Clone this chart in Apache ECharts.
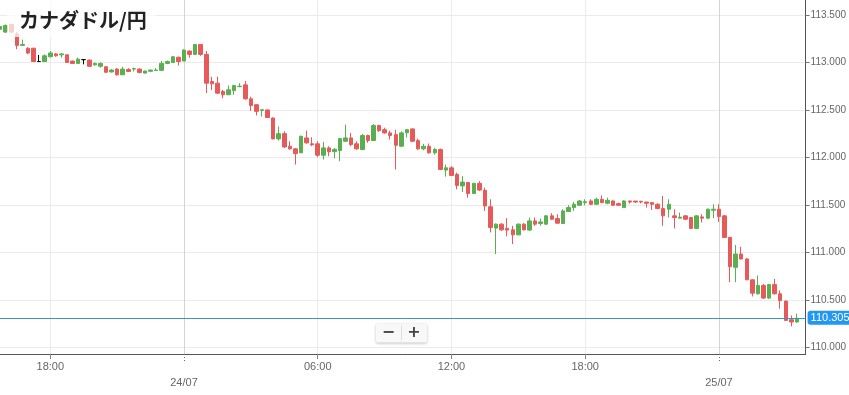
<!DOCTYPE html>
<html>
<head>
<meta charset="utf-8">
<script src="https://cdn.jsdelivr.net/npm/echarts@6/dist/echarts.min.js"></script>
<style>
html,body{margin:0;padding:0;background:#fff;}
#chart{width:849px;height:395px;}
</style>
</head>
<body>
<div id="chart"></div>
<script>
// 15-minute candles, CAD/JPY, 23/07 15:45 -> 25/07 03:30 (hours since 23/07 00:00)
var startHour = 15.75;
var stepHour = 0.25;

var opens = [
113.35,113.32,113.40,113.30,113.18,113.15,113.15,113.01,113.01,113.06,
113.09,113.08,113.08,113.015,112.99,113.03,113.025,112.975,112.96,112.955,
112.90,112.93,112.87,112.925,112.93,112.93,112.888,112.907,112.915,112.917,
112.99,113.00,113.055,113.015,113.12,113.085,113.19,113.085,112.80,112.782,
112.694,112.66,112.705,112.745,112.764,112.617,112.555,112.495,112.50,112.415,
112.195,112.25,112.117,112.09,112.048,112.205,112.143,112.143,112.023,112.10,
112.06,112.072,112.17,112.205,112.143,112.083,112.23,112.178,112.335,112.292,
112.258,112.24,112.118,112.26,112.30,112.177,112.09,112.117,112.048,112.083,
111.866,111.89,111.82,111.70,111.735,111.62,111.727,111.653,111.48,111.255,
111.297,111.252,111.237,111.184,111.297,111.234,111.331,111.304,111.297,111.384,
111.356,111.304,111.43,111.471,111.496,111.524,111.541,111.506,111.559,111.517,
111.541,111.513,111.471,111.541,111.54,111.538,111.53,111.524,111.506,111.461,
111.454,111.384,111.36,111.384,111.367,111.252,111.373,111.36,111.443,111.454,
111.384,111.157,110.842,110.982,110.93,110.71,110.563,110.65,110.518,110.66,
110.563,110.486,110.29,110.266
];
var closes = [
113.38,113.39,113.32,113.18,113.19,113.10,113.01,113.01,113.07,113.10,
113.07,113.09,113.00,112.99,113.035,113.03,112.96,112.99,112.99,112.897,
112.92,112.87,112.93,112.905,112.935,112.895,112.91,112.92,112.92,112.99,
113.01,113.06,113.01,113.13,113.085,113.19,113.085,112.782,112.775,112.677,
112.66,112.712,112.757,112.75,112.617,112.547,112.485,112.502,112.42,112.195,
112.25,112.11,112.09,112.04,112.222,112.153,112.132,112.023,112.10,112.06,
112.083,112.198,112.205,112.135,112.09,112.23,112.178,112.335,112.282,112.258,
112.23,112.128,112.258,112.292,112.17,112.09,112.117,112.048,112.083,111.873,
111.89,111.81,111.705,111.74,111.62,111.727,111.656,111.488,111.262,111.297,
111.237,111.234,111.184,111.297,111.237,111.331,111.297,111.32,111.384,111.349,
111.307,111.436,111.471,111.506,111.541,111.534,111.506,111.559,111.524,111.548,
111.496,111.496,111.541,111.53,111.53,111.53,111.517,111.506,111.461,111.384,
111.506,111.367,111.37,111.349,111.252,111.384,111.36,111.454,111.454,111.377,
111.157,110.849,110.982,110.93,110.71,110.57,110.65,110.518,110.66,110.563,
110.493,110.283,110.266,110.305
];
var lows = [
113.33,113.31,113.31,113.14,113.18,113.086,113.005,113.01,113.005,113.055,
113.06,113.05,113.00,112.985,112.99,112.98,112.955,112.965,112.945,112.893,
112.895,112.86,112.87,112.90,112.905,112.885,112.885,112.905,112.915,112.914,
112.985,112.998,112.967,113.015,113.05,113.085,113.07,112.677,112.71,112.667,
112.625,112.66,112.66,112.74,112.607,112.49,112.442,112.43,112.415,112.19,
112.177,112.10,112.08,111.925,112.048,112.143,112.118,112.002,111.978,112.012,
111.99,111.96,112.163,112.118,112.08,112.075,112.153,112.178,112.268,112.25,
112.188,111.873,112.111,112.21,112.163,112.08,112.075,112.04,112.03,111.866,
111.797,111.81,111.663,111.635,111.576,111.618,111.646,111.436,111.21,110.982,
111.226,111.168,111.087,111.181,111.23,111.226,111.279,111.28,111.286,111.342,
111.304,111.297,111.426,111.436,111.489,111.496,111.499,111.499,111.517,111.506,
111.489,111.489,111.471,111.513,111.52,111.515,111.471,111.447,111.454,111.279,
111.367,111.252,111.36,111.342,111.244,111.244,111.314,111.349,111.36,111.32,
111.157,110.685,110.685,110.923,110.71,110.535,110.556,110.51,110.51,110.556,
110.406,110.277,110.22,110.259
];
var highs = [
113.39,113.40,113.41,113.32,113.24,113.16,113.155,113.08,113.085,113.12,
113.10,113.10,113.085,113.02,113.05,113.03,113.03,113.00,113.00,112.96,
112.93,112.94,112.955,112.94,112.945,112.94,112.912,112.925,112.94,113.015,
113.02,113.068,113.06,113.14,113.128,113.194,113.194,113.12,112.85,112.85,
112.712,112.757,112.764,112.782,112.806,112.64,112.56,112.502,112.505,112.42,
112.327,112.275,112.17,112.10,112.23,112.282,112.212,112.17,112.163,112.117,
112.10,112.205,112.345,112.258,112.17,112.247,112.24,112.352,112.345,112.313,
112.282,112.292,112.275,112.30,112.306,112.198,112.143,112.146,112.10,112.093,
111.925,111.908,111.84,111.803,111.74,111.733,111.75,111.68,111.559,111.304,
111.307,111.36,111.279,111.304,111.307,111.367,111.367,111.356,111.39,111.412,
111.401,111.454,111.496,111.53,111.551,111.559,111.559,111.576,111.60,111.576,
111.548,111.524,111.548,111.541,111.54,111.54,111.53,111.524,111.517,111.593,
111.559,111.454,111.419,111.391,111.373,111.39,111.401,111.461,111.506,111.506,
111.394,111.164,111.077,111.058,110.94,110.717,110.755,110.668,110.668,110.72,
110.598,110.492,110.335,110.353
];

var times = opens.map(function (_, i) { return startHour + i * stepHour; });

var xTimeTicks = [18, 30, 36, 42];
var xTimeLabels = ['18:00', '06:00', '12:00', '18:00'];
var xDateTicks = [24, 48];
var xDateLabels = ['24/07', '25/07'];
var yTicks = [110.0, 110.5, 111.0, 111.5, 112.0, 112.5, 113.0, 113.5];

var title = 'カナダドル/円';
var lastPrice = closes[closes.length - 1];

var xMin = 15.744, xMax = 51.888;
var yMin = 109.929, yMax = 113.658;

var upColor = '#58b050', downColor = '#e65a5a';
var labelFont = '"Liberation Sans", Arial, sans-serif';

var candleData = times.map(function (t, i) {
  return [t, opens[i], closes[i], lows[i], highs[i]];
});

function lookup(ticks, labels) {
  return function (v) {
    for (var i = 0; i < ticks.length; i++) {
      if (Math.abs(ticks[i] - v) < 1e-6) return labels[i];
    }
    return '';
  };
}

var chart = echarts.init(document.getElementById('chart'), null, {renderer: 'canvas'});
chart.setOption({
  animation: false,
  backgroundColor: '#fff',
  title: {
    text: title,
    left: 7,
    top: 0,
    padding: [10, 8, 7, 12],
    backgroundColor: 'rgba(255,255,255,0.72)',
    textStyle: {
      fontSize: 20,
      fontWeight: 'bold',
      color: '#222',
      fontFamily: '"Noto Sans CJK JP", sans-serif'
    },
    z: 10
  },
  grid: {left: 0, right: 43, top: 0, bottom: 41, containLabel: false},
  xAxis: [{
    type: 'value',
    min: xMin,
    max: xMax,
    position: 'bottom',
    axisLine: {show: true, lineStyle: {color: '#555', width: 1}},
    axisTick: {show: true, customValues: xTimeTicks, length: 5, lineStyle: {color: '#888'}},
    axisLabel: {
      customValues: xTimeTicks,
      formatter: lookup(xTimeTicks, xTimeLabels),
      color: '#666', fontSize: 11, margin: 7, fontFamily: labelFont
    },
    splitLine: {show: true, lineStyle: {color: '#ececec', width: 1}}
  }, {
    type: 'value',
    min: xMin,
    max: xMax,
    position: 'bottom',
    axisLine: {show: false},
    axisTick: {show: true, customValues: xDateTicks, length: 8, lineStyle: {color: '#666', type: [1, 2]}},
    axisLabel: {
      customValues: xDateTicks,
      formatter: lookup(xDateTicks, xDateLabels),
      color: '#666', fontSize: 11, margin: 23, fontFamily: labelFont
    },
    splitLine: {show: true, lineStyle: {color: '#d4d4d4', width: 1}}
  }],
  yAxis: {
    type: 'value',
    position: 'right',
    min: yMin,
    max: yMax,
    axisLine: {show: true, lineStyle: {color: '#555', width: 1}},
    axisTick: {show: true, customValues: yTicks, length: 4, lineStyle: {color: '#777'}},
    axisLabel: {
      customValues: yTicks,
      formatter: function (v) { return v.toFixed(3); },
      color: '#666', fontSize: 10, margin: 5, fontFamily: labelFont
    },
    splitLine: {show: true, lineStyle: {color: '#ebebeb', width: 1}}
  },
  series: [{
    type: 'candlestick',
    xAxisIndex: 0,
    yAxisIndex: 0,
    data: candleData,
    encode: {x: 0, y: [1, 2, 3, 4]},
    barWidth: 4,
    clip: true,
    itemStyle: {
      color: upColor,
      color0: downColor,
      borderColor: upColor,
      borderColor0: downColor,
      borderColorDoji: '#000',
      borderWidth: 1
    },
    markLine: {
      silent: true,
      symbol: 'none',
      animation: false,
      lineStyle: {color: '#3a94c9', width: 1, type: 'solid'},
      label: {
        show: true,
        position: 'end',
        distance: 2,
        formatter: function () { return lastPrice.toFixed(3); },
        color: '#fff',
        backgroundColor: '#2196f3',
        borderRadius: 3,
        padding: [2, 3, 1, 3],
        fontSize: 11,
        fontFamily: labelFont
      },
      data: [{yAxis: lastPrice}]
    }
  }],
  graphic: [{
    type: 'group',
    left: 376,
    top: 323,
    children: [{
      type: 'rect',
      shape: {x: 0, y: 0, width: 51, height: 19, r: 2},
      style: {fill: '#f8f8f8', shadowBlur: 3, shadowColor: 'rgba(0,0,0,0.25)', shadowOffsetY: 1}
    }, {
      type: 'line',
      shape: {x1: 25.5, y1: 2, x2: 25.5, y2: 17},
      style: {stroke: '#dddddd', lineWidth: 1}
    }, {
      type: 'text',
      x: 12.5, y: 9.5,
      style: {text: '−', fill: '#444', font: 'bold 16px "DejaVu Sans", sans-serif', align: 'center', verticalAlign: 'middle'}
    }, {
      type: 'text',
      x: 38, y: 9.5,
      style: {text: '+', fill: '#444', font: 'bold 16px "DejaVu Sans", sans-serif', align: 'center', verticalAlign: 'middle'}
    }]
  }, {
    type: 'line',
    left: 0,
    top: 393,
    shape: {x1: 0, y1: 0, x2: 849, y2: 0},
    style: {stroke: '#dddddd', lineWidth: 1}
  }]
});
</script>
</body>
</html>
